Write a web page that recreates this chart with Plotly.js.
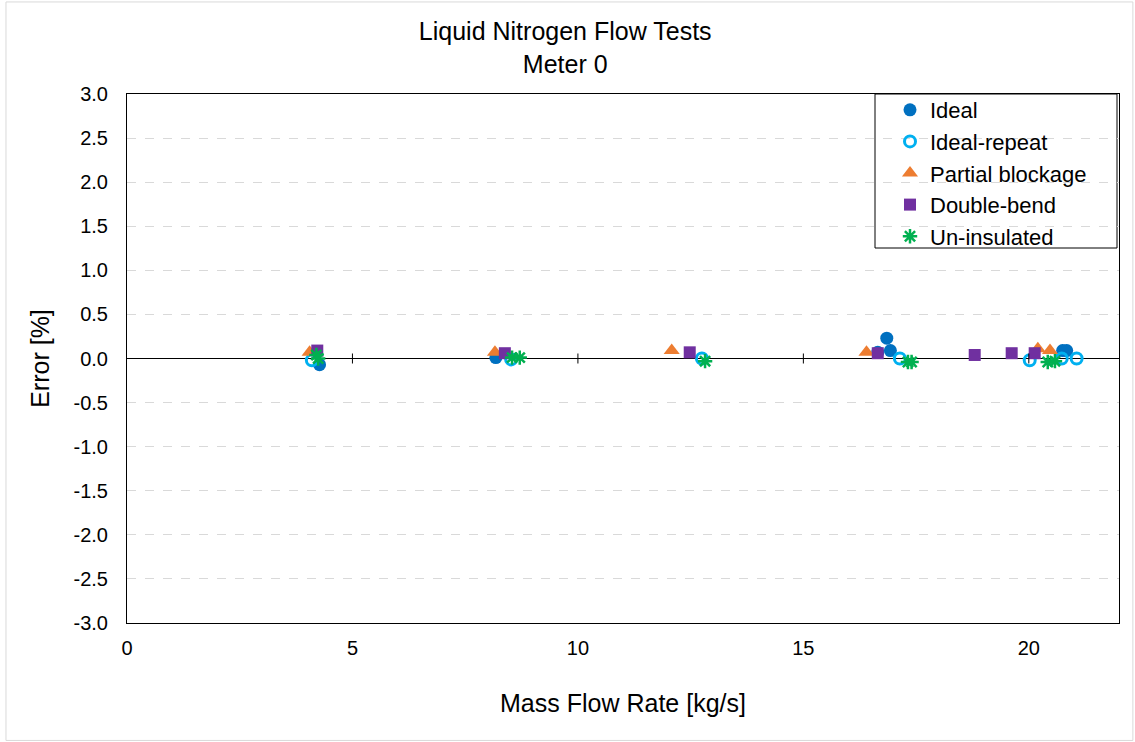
<!DOCTYPE html>
<html>
<head>
<meta charset="utf-8">
<script src="https://cdn.plot.ly/plotly-3.0.1.min.js"></script>
<style>html,body{margin:0;padding:0;background:#fff;}#chart{width:1135px;height:742px;}</style>
</head>
<body>
<div id="chart"></div>
<script>
// ---- data ----
const idealX = [4.27, 8.18, 16.65, 16.85, 16.93, 20.75, 20.84];
const idealY = [-0.07, 0.01, 0.07, 0.23, 0.09, 0.09, 0.09];

const repeatX = [4.10, 8.52, 12.75, 17.14, 20.02, 20.73, 21.06];
const repeatY = [-0.02, -0.01, 0.00, 0.00, -0.02, 0.00, 0.00];

const blockX = [4.05, 8.16, 12.08, 16.40, 20.20, 20.47];
const blockY = [0.07, 0.07, 0.09, 0.07, 0.11, 0.09];

const bendX = [4.22, 8.38, 12.48, 16.65, 18.80, 19.62, 20.13];
const bendY = [0.09, 0.06, 0.07, 0.06, 0.04, 0.06, 0.06];

const uninsX = [4.20, 4.24, 8.54, 8.71, 12.82, 17.32, 17.40, 20.42, 20.58];
const uninsY = [0.04, 0.00, 0.01, 0.01, -0.03, -0.04, -0.04, -0.04, -0.03];

const yTickVals = [-3, -2.5, -2, -1.5, -1, -0.5, 0, 0.5, 1, 1.5, 2, 2.5, 3];
const xTickVals = [0, 5, 10, 15, 20];
const zeroTickVals = [5, 10, 15, 20];

const FONT = "Liberation Sans, Arial, sans-serif";

const traces = [
  {x: idealX, y: idealY, name: 'Ideal', type: 'scatter', mode: 'markers',
   marker: {symbol: 'circle', size: 13, color: '#0070C0'}},
  {x: repeatX, y: repeatY, name: 'Ideal-repeat', type: 'scatter', mode: 'markers',
   marker: {symbol: 'circle-open', size: 11, color: '#00B0F0', line: {width: 3, color: '#00B0F0'}}},
  {x: blockX, y: blockY, name: 'Partial blockage', type: 'scatter', mode: 'markers',
   marker: {symbol: 'triangle-up', size: 14, color: '#ED7D31'}},
  {x: bendX, y: bendY, name: 'Double-bend', type: 'scatter', mode: 'markers',
   marker: {symbol: 'square', size: 12, color: '#7030A0'}},
  {x: uninsX, y: uninsY, name: 'Un-insulated', type: 'scatter', mode: 'markers',
   marker: {symbol: 'asterisk-open', size: 12, color: '#00B050', line: {width: 2.5, color: '#00B050'}}}
];

const shapes = [
  // outer chart border
  {type: 'rect', xref: 'paper', yref: 'paper', x0: -0.122, x1: 1.014, y0: -0.222, y1: 1.174,
   line: {color: '#d9d9d9', width: 1}, fillcolor: 'rgba(0,0,0,0)', layer: 'below'},
  // legend box
  {type: 'rect', xref: 'paper', yref: 'paper', x0: (875 - 127) / 992, x1: (1117 - 127) / 992,
   y0: (623 - 248) / 529, y1: 1, line: {color: '#000', width: 1}, fillcolor: '#fff', layer: 'below'}
];
zeroTickVals.forEach(v => shapes.push({
  type: 'line', xref: 'x', yref: 'y', ysizemode: 'pixel', yanchor: 0,
  x0: v, x1: v, y0: -5, y1: 5, line: {color: '#000', width: 1}
}));

const layout = {
  width: 1135, height: 742,
  margin: {l: 127, r: 16, t: 94, b: 119},
  paper_bgcolor: '#fff', plot_bgcolor: '#fff',
  font: {family: FONT, color: '#000', size: 20},
  title: {text: 'Liquid Nitrogen Flow Tests<br>Meter 0', x: 0.498, xanchor: 'center',
          yref: 'container', y: 1 - 40 / 742, yanchor: 'top', font: {size: 25, family: FONT, color: '#000'}},
  xaxis: {range: [0, 22], tickvals: xTickVals, ticktext: xTickVals.map(v => String(v)),
          showgrid: false, zeroline: false, showline: true, linecolor: '#000', linewidth: 1, mirror: true,
          ticks: '', ticklabelstandoff: 7, tickfont: {size: 20},
          title: {text: 'Mass Flow Rate [kg/s]', font: {size: 25}, standoff: 36}},
  yaxis: {range: [-3, 3], tickvals: yTickVals, ticktext: yTickVals.map(v => v.toFixed(1)),
          showgrid: true, gridcolor: '#d9d9d9', griddash: 'dash', gridwidth: 1,
          zeroline: true, zerolinecolor: '#000', zerolinewidth: 1.3,
          showline: true, linecolor: '#000', linewidth: 1, mirror: true,
          ticks: '', ticklabelstandoff: 14, tickfont: {size: 20},
          title: {text: 'Error [%]', font: {size: 25}, standoff: 16}},
  legend: {x: (890 - 127) / 992, y: 1 + 5 / 529, xanchor: 'left', yanchor: 'top',
           bgcolor: 'rgba(0,0,0,0)', borderwidth: 0,
           font: {size: 22, family: FONT}, itemwidth: 30, tracegroupgap: 0},
  showlegend: true,
  shapes: shapes
};

Plotly.newPlot('chart', traces, layout, {displayModeBar: false, staticPlot: true});
</script>
</body>
</html>
